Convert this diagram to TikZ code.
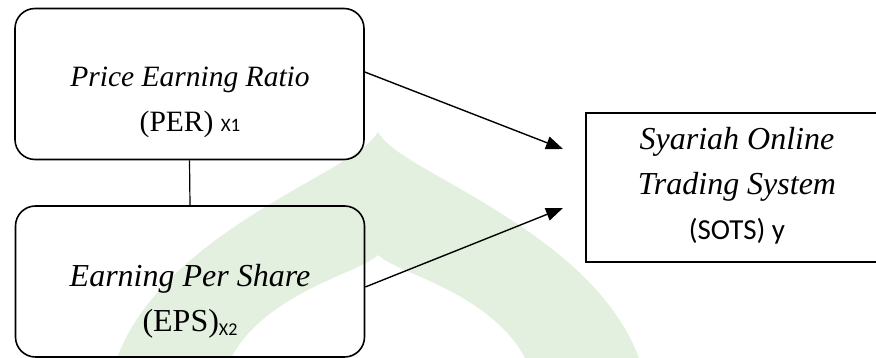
\documentclass[tikz,border=0pt]{standalone}
\usepackage{fontspec}
\setmainfont{Liberation Serif}
\newfontfamily\calibri{Carlito}
\usetikzlibrary{arrows.meta}
\definecolor{markgreen}{RGB}{227,239,223}

\begin{document}
\begin{tikzpicture}[
		x=1pt, y=-1pt,
		varbox/.style={draw, line width=1.6pt, rounded corners=20pt, minimum width=349pt, minimum height=151pt},
		depbox/.style={draw, line width=1.6pt, minimum width=304pt, minimum height=149pt},
		boxtext/.style={align=center, font=\fontsize{#1}{45}\selectfont},
		link/.style={line width=1.4pt, -{Triangle[length=17pt,width=13pt]}}
	]
	\useasboundingbox (0,0) rectangle (876,358);
	\clip (0,0) rectangle (876,358);

	% watermark in the background
	\fill[markgreen] (117,358) .. controls (150,270) and (250,215) .. (320,175)
		.. controls (355,155) and (370,145) .. (378,132)
		.. controls (386,145) and (401,155) .. (436,175)
		.. controls (506,215) and (606,270) .. (639,358) -- (525,358)
		.. controls (500,310) and (440,285) .. (400,268)
		.. controls (390,263) and (382,259) .. (378,255)
		.. controls (374,259) and (366,263) .. (356,268)
		.. controls (316,285) and (256,310) .. (231,358) -- cycle;

	\node[varbox] (per) at (189.5,84) {};
	\node[varbox] (eps) at (190,281.5) {};
	\node[depbox] (sots) at (738,187.5) {};

	\node[boxtext=29.5] (pertext) at (190,102.5)
		{\textit{Price Earning Ratio}\\(PER) {\calibri\fontsize{19}{19}\selectfont X1}};
	\node[boxtext=32] (epstext) at (190,301)
		{\textit{Earning Per Share}\\(EPS)\raisebox{-4pt}{\calibri\fontsize{18}{18}\selectfont X2}};
	\node[boxtext=32] (sotstext) at (737,186)
		{\textit{Syariah Online}\\\textit{Trading System}\\{\calibri\fontsize{29}{45}\selectfont (SOTS) y}};

	\coordinate (tipa) at (563,149);
	\coordinate (tipb) at (563,208);

	\draw[line width=1.2pt] (per.south) -- (eps.north);
	\draw[link] ([yshift=12pt]per.east) -- (tipa);
	\draw[link] ([yshift=-5.5pt]eps.east) -- (tipb);
\end{tikzpicture}
\end{document}
